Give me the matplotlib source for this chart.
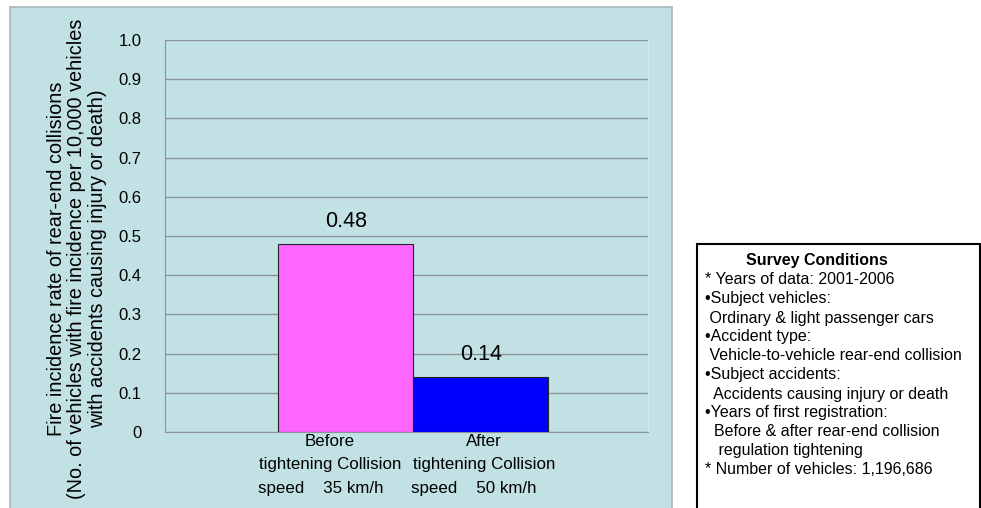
import matplotlib.pyplot as plt
from matplotlib.patches import Rectangle

# data
categories = ["Before\ntightening Collision\nspeed    35 km/h    ",
              "After\ntightening Collision\nspeed    50 km/h    "]
rates = [0.48, 0.14]
value_labels = ["0.48", "0.14"]
y_ticks = [0, 0.1, 0.2, 0.3, 0.4, 0.5, 0.6, 0.7, 0.8, 0.9, 1.0]
y_tick_labels = ["0", "0.1", "0.2", "0.3", "0.4", "0.5", "0.6", "0.7", "0.8", "0.9", "1.0"]
ylabel_lines = ["Fire incidence rate of rear-end collisions",
                "(No. of vehicles with fire incidence per 10,000 vehicles",
                "with accidents causing injury or death)"]
survey_title = "Survey Conditions"
survey_lines = ["* Years of data: 2001-2006",
                "\u2022Subject vehicles:",
                " Ordinary & light passenger cars",
                "\u2022Accident type:",
                " Vehicle-to-vehicle rear-end collision",
                "\u2022Subject accidents:",
                "  Accidents causing injury or death",
                "\u2022Years of first registration:",
                "  Before & after rear-end collision",
                "   regulation tightening",
                "* Number of vehicles: 1,196,686"]

bar_colors = ["#FF66FF", "#0000FF"]
panel_color = "#C2E1E4"

plt.rcParams['font.family'] = ['Liberation Sans', 'DejaVu Sans']

W, H = 981, 508
fig = plt.figure(figsize=(W / 100, H / 100), dpi=100)

def fx(px):
    return px / W

def fy(py):
    return 1 - py / H

# teal chart panel
fig.patches.append(Rectangle((fx(10), fy(520)), fx(672) - fx(10), fy(7) - fy(520),
                             transform=fig.transFigure, facecolor=panel_color,
                             edgecolor="#A8B8BA", lw=1.2, zorder=0))

ax = fig.add_axes([fx(165), fy(432), fx(648) - fx(165), fy(40) - fy(432)])
ax.set_facecolor(panel_color)
ax.set_zorder(1)

x = [0, 1]
ax.bar(x, rates, width=1.0, color=bar_colors, edgecolor="#222222", lw=0.8, zorder=3)
for xi, v, lab in zip(x, rates, value_labels):
    ax.text(xi, v + 0.03, lab, ha="center", va="bottom", fontsize=15.5)

ax.set_xlim(-1.34, 2.24)
ax.set_ylim(0, 1.0)
ax.set_yticks(y_ticks)
ax.set_yticklabels(y_tick_labels, fontsize=12)
ax.set_xticks(x)
ax.set_xticklabels([])
# category labels sit a little off the bar centres, as in the original
for xi, cat, dx in zip(x, categories, [-16, 3]):
    ax.annotate(cat, xy=(xi, 0), xycoords=("data", "axes fraction"),
                xytext=(dx, -2), textcoords="offset pixels", ha="center", va="top",
                fontsize=12.2, linespacing=1.7, annotation_clip=False)
ax.tick_params(axis="y", length=0, pad=17)
ax.tick_params(axis="x", length=0)
ax.yaxis.grid(True, color="#8A9496", lw=1.0, zorder=1)
ax.set_axisbelow(True)
for s in ["left", "bottom"]:
    ax.spines[s].set_color("#8A9496")
ax.spines["top"].set_visible(False)
ax.spines["right"].set_color("#D8E8EA")

fig.text(fx(77), fy(259), "\n".join(ylabel_lines), rotation=90, ha="center",
         va="center", multialignment="center", fontsize=14.3, linespacing=1.12)

# survey conditions box
fig.patches.append(Rectangle((fx(697), fy(520)), fx(980) - fx(697), fy(244) - fy(520),
                             transform=fig.transFigure, facecolor="white",
                             edgecolor="black", lw=1.5, zorder=0))
fig.text(fx(817), fy(260), survey_title, ha="center", va="center",
         fontsize=11.5, fontweight="bold")
for i, line in enumerate(survey_lines):
    fig.text(fx(705), fy(280 + 19 * i), line, ha="left", va="center", fontsize=11.5)

fig.savefig("out.png", dpi=100)
